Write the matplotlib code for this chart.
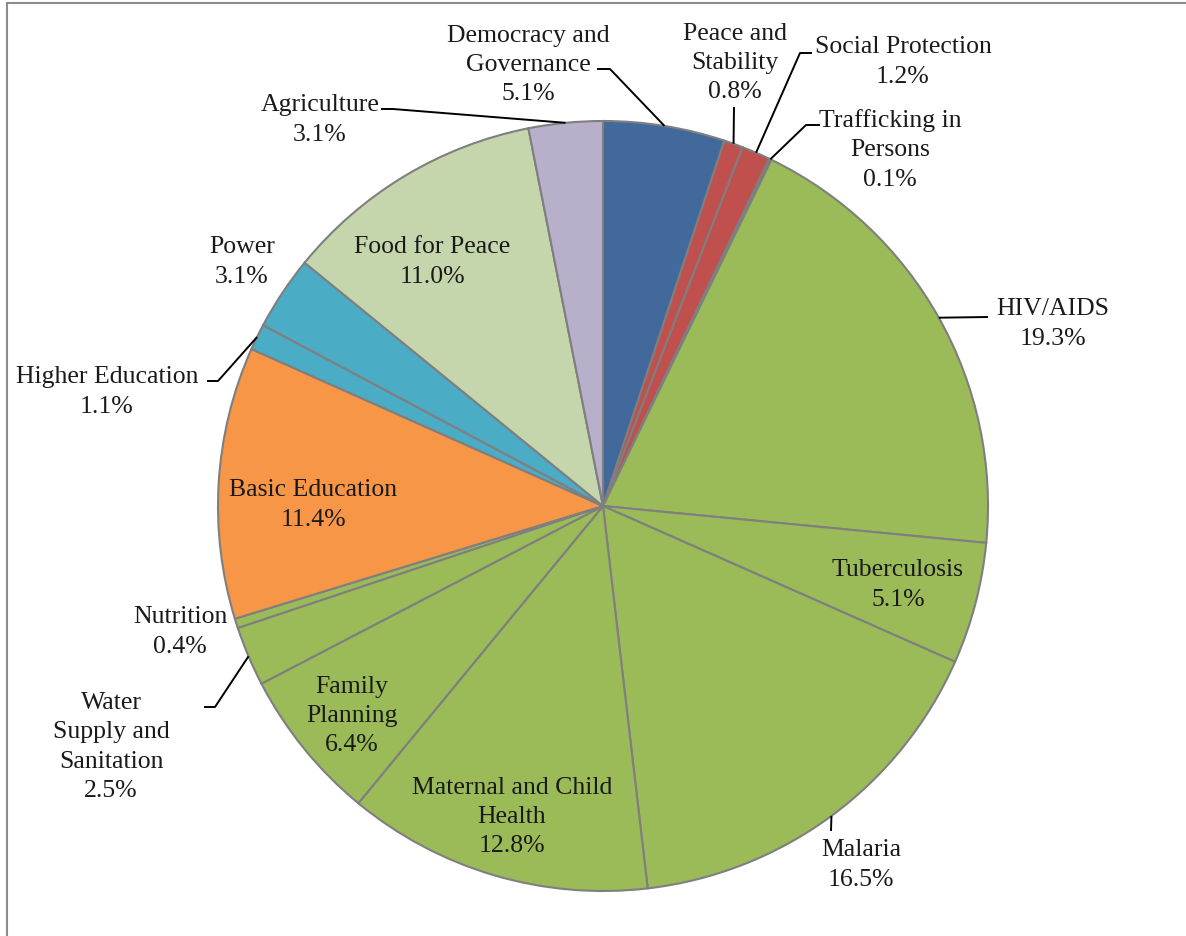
import matplotlib
matplotlib.use('Agg')
import matplotlib.pyplot as plt
import numpy as np
from matplotlib.lines import Line2D

categories = ["Democracy and\nGovernance", "Peace and\nStability", "Social Protection",
              "Trafficking in\nPersons", "HIV/AIDS", "Tuberculosis", "Malaria",
              "Maternal and Child\nHealth", "Family\nPlanning", "Water\nSupply and\nSanitation",
              "Nutrition", "Basic Education", "Higher Education", "Power",
              "Food for Peace", "Agriculture"]
shares = [5.1, 0.8, 1.2, 0.1, 19.3, 5.1, 16.5, 12.8, 6.4, 2.5, 0.4, 11.4, 1.1, 3.1, 11.0, 3.1]
colors = ["#41699B", "#C0504D", "#C0504D", "#C0504D", "#9BBB59", "#9BBB59", "#9BBB59",
          "#9BBB59", "#9BBB59", "#9BBB59", "#9BBB59", "#F79646", "#4BACC6", "#4BACC6",
          "#C6D6AC", "#B8AFCB"]

W, H = 1186, 937
fig = plt.figure(figsize=(W / 100, H / 100), dpi=100)
ax = fig.add_axes([0, 0, 1, 1])

def Y(y):
    return H - y

cx, cy, R = 603, Y(507), 385
wedges, _ = ax.pie(shares, colors=colors, startangle=90, counterclock=False,
                   center=(cx, cy), radius=R,
                   wedgeprops=dict(edgecolor="#7F7F7F", linewidth=1.5))
ax.set_xlim(0, W)
ax.set_ylim(0, H)
ax.set_aspect("equal")
ax.axis("off")

# label layout (pixel positions of text block centres)
label_pos = [(528, 65), (735, 63), (903, 62), (890, 150), (1053, 324), (898, 585),
             (861, 865), (512, 817), (352, 716), (111, 747), (180, 632), (313, 505),
             (107, 392), (242, 262), (432, 262), (320, 120)]

font = dict(family=["Liberation Serif", "DejaVu Serif"], fontsize=18.5, color="#1a1a1a")
for name, val, (x, y) in zip(categories, shares, label_pos):
    ax.text(x, Y(y), f"{name}\n{val:.1f}%", ha="center", va="center",
            multialignment="center", linespacing=1.42, **font)

# leader lines: index -> elbow points (pixels), ending on the wedge edge
leaders = {
    0: [(597, 70), (610, 70)],
    1: [(734, 108)],
    2: [(812, 54), (800, 54)],
    3: [(820, 126), (806, 126)],
    4: [(988, 318)],
    6: [(831, 832)],
    9: [(204, 708), (215, 708)],
    12: [(207, 382), (218, 382)],
    15: [(381, 110), (393, 110)],
}
for i, pts in leaders.items():
    w = wedges[i]
    mid = np.deg2rad((w.theta1 + w.theta2) / 2)
    ex, ey = cx + R * np.cos(mid), cy + R * np.sin(mid)
    xs = [p[0] for p in pts] + [ex]
    ys = [Y(p[1]) for p in pts] + [ey]
    ax.plot(xs, ys, color="black", lw=1.4, solid_capstyle="butt", zorder=5)

# outer frame (cropped chart border)
fig.add_artist(Line2D([7 / W, 7 / W], [0, 1 - 4 / H], color="#8C8C8C", lw=1.5,
                      transform=fig.transFigure))
fig.add_artist(Line2D([7 / W, 1], [1 - 4 / H, 1 - 4 / H], color="#8C8C8C", lw=1.5,
                      transform=fig.transFigure))

fig.savefig("out.png", dpi=100)
